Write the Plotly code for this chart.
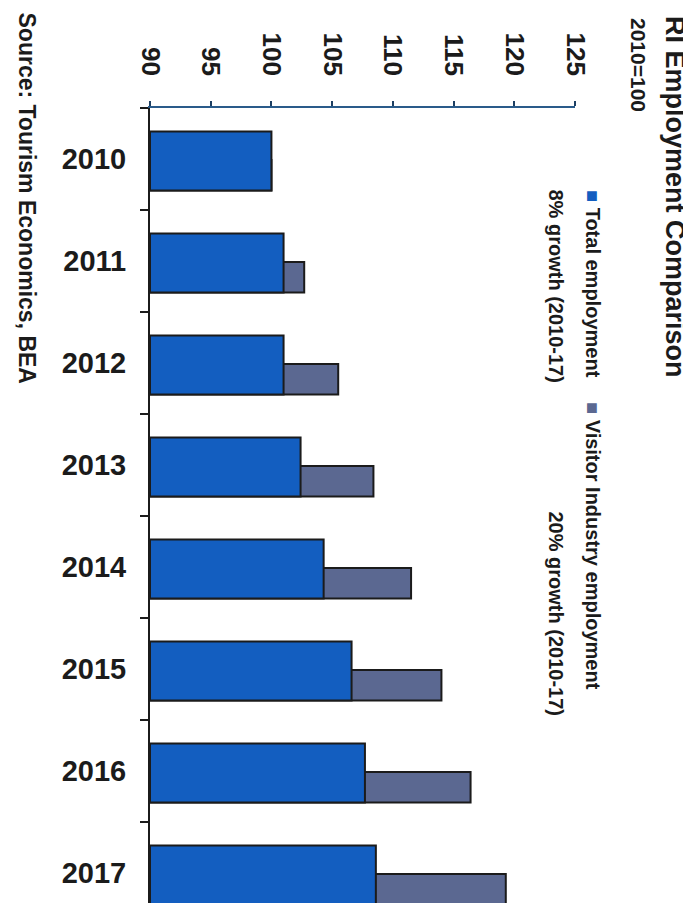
import plotly.graph_objects as go

years = ["2010", "2011", "2012", "2013", "2014", "2015", "2016", "2017"]
total_employment = [100.0, 101.0, 101.0, 102.4, 104.3, 106.6, 107.7, 108.6]
visitor_employment = [100.0, 102.7, 105.5, 108.4, 111.5, 114.0, 116.4, 119.3]
value_ticks = [90, 95, 100, 105, 110, 115, 120, 125]

FONT = "Liberation Sans, Arial, sans-serif"
BLUE = "#135ec0"
GREY = "#5b6891"
INK = "#1b1b1b"

# plot area in pixels
W, H = 691, 903
ML, MR, MT, MB = 142, 124, 100, 0
PW, PH = W - ML - MR, H - MT - MB


def xp(px):
    return (px - ML) / PW


def yp(py):
    return 1 - (py - MT) / PH


fig = go.Figure()
fig.add_trace(go.Bar(
    y=years, x=[v - 90 for v in visitor_employment], base=90, orientation="h",
    name="Visitor industry employment", marker=dict(color=GREY, line=dict(color=INK, width=2)),
    width=0.30, offset=0.01, showlegend=False,
))
fig.add_trace(go.Bar(
    y=years, x=[v - 90 for v in total_employment], base=90, orientation="h",
    name="Total employment", marker=dict(color=BLUE, line=dict(color=INK, width=2)),
    width=0.58, offset=-0.27, showlegend=False,
))

fig.update_layout(
    width=W, height=H, barmode="overlay",
    margin=dict(l=ML, r=MR, t=MT, b=MB, pad=0),
    paper_bgcolor="white", plot_bgcolor="white",
    font=dict(family=FONT, color=INK),
    xaxis=dict(
        side="top", range=[90, 125], tickvals=value_ticks,
        ticktext=[str(v) for v in value_ticks], tickangle=90,
        tickfont=dict(size=26, weight="bold", color=INK, family=FONT),
        ticks="outside", ticklen=5, tickwidth=2, tickcolor="#1d3f63",
        showline=True, linecolor="#2a5b8a", linewidth=2,
        showgrid=False, zeroline=False, ticklabelstandoff=16,
    ),
    yaxis=dict(
        type="category", categoryorder="array", categoryarray=years,
        range=[-0.5 + PH / 102, -0.5],
        tickfont=dict(size=29, weight="bold", color=INK, family=FONT),
        ticks="outside", ticklen=8, tickwidth=2, tickcolor=INK, tickson="boundaries",
        showline=True, linecolor=INK, linewidth=2, showgrid=False, zeroline=False,
        ticklabelstandoff=16,
    ),
)

anns = [
    dict(text="<b>RI Employment Comparison</b>", px=667, py=6, size=27, anchor="top"),
    dict(text="<b>2010=100</b>", px=630, py=8, size=21, anchor="top"),
    dict(text=f'<b><span style="color:{BLUE}">■</span> Total employment</b>', px=585, py=180, size=20, anchor="top"),
    dict(text="<b>8% growth (2010-17)</b>", px=548, py=376, size=20, anchor="bottom"),
    dict(text=f'<b><span style="color:{GREY}">■</span> Visitor Industry employment</b>', px=585, py=392, size=20, anchor="top"),
    dict(text="<b>20% growth (2010-17)</b>", px=548, py=710, size=20, anchor="bottom"),
    dict(text="<b>Source: Tourism Economics, BEA</b>", px=18, py=2, size=23, anchor="top"),
]
for a in anns:
    fig.add_annotation(
        text=a["text"], x=xp(a["px"]), y=yp(a["py"]), xref="paper", yref="paper",
        xanchor="center", yanchor=a["anchor"], textangle=90, showarrow=False,
        font=dict(size=a["size"], family=FONT, color=INK),
    )

fig.write_html("out.html")
